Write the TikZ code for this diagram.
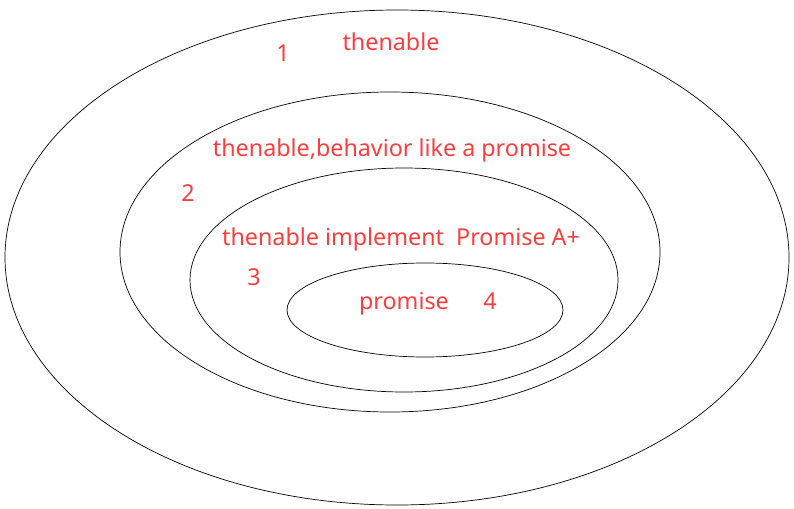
\documentclass[tikz,border=0pt]{standalone}
\usepackage{fontspec}
\setmainfont{Noto Sans}
\definecolor{lbl}{RGB}{250,62,62}
\begin{document}
\begin{tikzpicture}[x=1pt,y=-1pt,
  ring/.style={draw=black,line width=0.7pt},
  lab/.style={text=lbl,font=\fontsize{23.3}{25}\selectfont,inner sep=0pt,anchor=center}]
\useasboundingbox (0,0) rectangle (794,508);
\draw[ring] (397,257.5) ellipse [x radius=392, y radius=247.5];
\draw[ring] (390,252) ellipse [x radius=270, y radius=160];
\draw[ring] (404,280) ellipse [x radius=214, y radius=112];
\draw[ring] (425,310) ellipse [x radius=138, y radius=47];
\node[lab] (n1) at (283,53) {1};
\node[lab] (t1) at (391,42) {thenable};
\node[lab] (t2) at (392,150) {thenable,behavior like a promise};
\node[lab] (n2) at (188,193) {2};
\node[lab] (t3) at (401,239) {thenable implement\ \ Promise A+};
\node[lab] (n3) at (254,277) {3};
\node[lab] (t4) at (404,304) {promise};
\node[lab] (n4) at (490,301) {4};
\end{tikzpicture}
\end{document}
